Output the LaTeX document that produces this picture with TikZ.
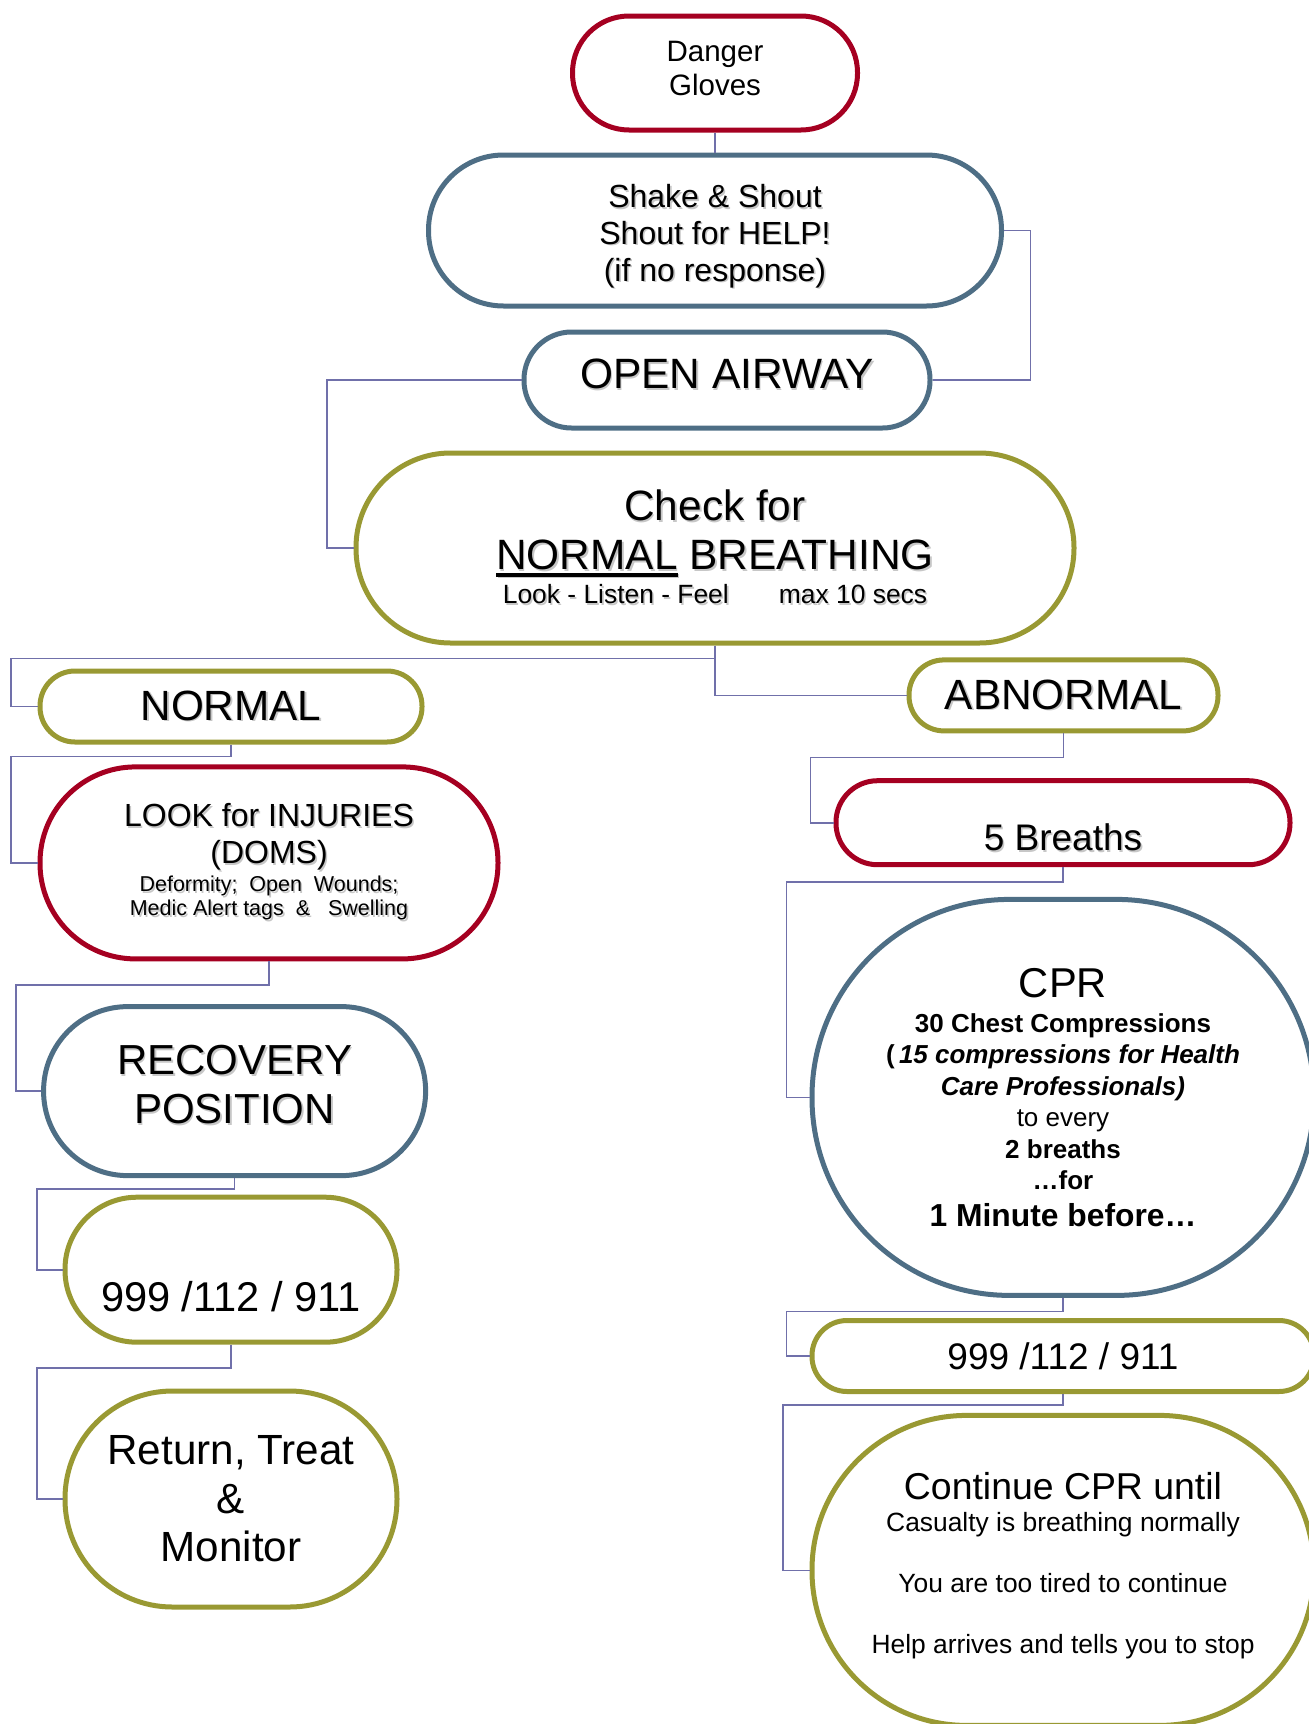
\documentclass[tikz,border=0pt]{standalone}
\usepackage{fontspec}
\setmainfont{Liberation Sans}
\usetikzlibrary{positioning}

\definecolor{aidred}{HTML}{A50021}
\definecolor{aidblue}{HTML}{4E6E85}
\definecolor{aidolive}{HTML}{999933}
\definecolor{aidlink}{HTML}{7070AA}

\newsavebox{\ulsave}
\newcommand{\ulword}[1]{\sbox{\ulsave}{#1}\rlap{\rule[-7pt]{\wd\ulsave}{4pt}}\usebox{\ulsave}}
% light drop shadow behind a line of text
\newcommand{\shtext}[1]{\leavevmode\rlap{\hspace{1.6pt}\raisebox{-1.6pt}{\color{black!22}#1}}#1}

\begin{document}
\begin{tikzpicture}[x=1pt, y=1pt, pill/.style n args={3}{minimum width=#1, minimum height=#2, rounded corners=#3}]
    \tikzstyle{redbox} = [rectangle, draw=aidred, line width=5pt, align=center]
    \tikzstyle{bluebox} = [rectangle, draw=aidblue, line width=5pt, align=center]
    \tikzstyle{olivebox} = [rectangle, draw=aidolive, line width=5pt, align=center]
    \tikzstyle{connector} = [draw=aidlink, line width=1.6pt]

    \useasboundingbox (0,0) rectangle (1309,-1724);

    % main column
    \node (danger) [redbox, pill={285pt}{114pt}{56.5pt}, font=\fontsize{29.5}{34}\selectfont] at (715,-73) {Danger\\Gloves\\[-25.2pt]\mbox{}};
    \node (shake) [bluebox, pill={573pt}{151pt}{75pt}, below=20pt of danger, font=\fontsize{32}{36.8}\selectfont] {\mbox{}\\[-1pt]\shtext{Shake \& Shout}\\\shtext{Shout for HELP!}\\\shtext{(if no response)}};
    \node (airway) [bluebox, pill={406pt}{96pt}{47.5pt}, below=21pt of shake, xshift=12pt, font=\fontsize{42.4}{48}\selectfont, text depth=12pt] {\shtext{OPEN AIRWAY}};
    \node (check) [olivebox, pill={718pt}{190pt}{94.5pt}, below=20pt of airway, xshift=-12pt, font=\fontsize{42.4}{48.8}\selectfont] {\shtext{Check for}\\\shtext{\ulword{NORMAL} BREATHING}\\[-14.5pt]{\fontsize{26.4}{30.4}\selectfont \shtext{Look - Listen - Feel\hspace{1.9em}max 10 secs}}};

    % normal breathing
    \node (normal) [olivebox, pill={382pt}{71pt}{35pt}, below=23pt of check, xshift=-484pt, font=\fontsize{42.3}{48.6}\selectfont] {\shtext{NORMAL}};
    \node (look) [redbox, pill={458pt}{192pt}{95.5pt}, below=19.9pt of normal, xshift=38pt, font=\fontsize{32}{36.8}\selectfont] {\shtext{LOOK for INJURIES}\\\shtext{(DOMS)}\\[-8.6pt]{\fontsize{21.5}{24.7}\selectfont \shtext{Deformity;~ Open~ Wounds;}}\\[-12.8pt]{\fontsize{21.5}{24.7}\selectfont \shtext{Medic Alert tags~ \&~~ Swelling}}};
    \node (recovery) [bluebox, pill={382pt}{169pt}{84pt}, below=42.7pt of look, xshift=-34.4pt, font=\fontsize{42}{48.5}\selectfont] {\shtext{RECOVERY}\\\shtext{POSITION}\\[-35.3pt]\mbox{}};
    \node (callleft) [olivebox, pill={332pt}{145pt}{72pt}, below=16.6pt of recovery, xshift=-3.6pt, font=\fontsize{41.6}{47.8}\selectfont, text height=83.8pt, text depth=0pt] {999 /112 / 911};
    \node (monitor) [olivebox, pill={332pt}{216pt}{107.5pt}, below=43.8pt of callleft, font=\fontsize{42.2}{48.6}\selectfont] {Return, Treat\\\&\\Monitor};

    % abnormal breathing
    \node (abnormal) [olivebox, pill={309pt}{71pt}{35pt}, below=11.9pt of check, xshift=348.5pt, font=\fontsize{42.3}{48.6}\selectfont] {\shtext{ABNORMAL}};
    \node (breaths) [redbox, pill={454pt}{84pt}{41.5pt}, below=44.8pt of abnormal, xshift=-0.5pt, font=\fontsize{37}{42.5}\selectfont, text height=55.5pt, text depth=0pt] {\shtext{5 Breaths}};
    \node (cpr) [bluebox, pill={502pt}{396pt}{197.5pt}, below=29.7pt of breaths, font=\fontsize{26}{31.5}\selectfont\bfseries] {{\fontsize{41.7}{48}\selectfont\mdseries CPR}\\[3.5pt]30 Chest Compressions\\(\,\textit{15 compressions for Health}\\\textit{Care Professionals)}\\{\mdseries to every}\\2 breaths\\…for\\[5.5pt]{\fontsize{31.8}{36.6}\selectfont 1 Minute before…}};
    \node (callright) [olivebox, pill={502pt}{71pt}{35pt}, below=20.1pt of cpr, font=\fontsize{37}{42.5}\selectfont] {999 /112 / 911};
    \node (continue) [olivebox, pill={502pt}{310pt}{154.5pt}, below=18.9pt of callright, font=\fontsize{26.4}{30.5}\selectfont] {{\fontsize{37.4}{43}\selectfont Continue CPR until}\\[2pt]Casualty is breathing normally\\[30.5pt]You are too tired to continue\\[30.5pt]Help arrives and tells you to stop\\[-15.2pt]\mbox{}};

    \draw [connector] (danger) -- (shake);
    \draw [connector] (shake.east) -- ++(26.5,0) |- (airway.east);
    \draw [connector] (airway.west) -| ([xshift=-26.5pt]check.west) -- (check.west);
    \draw [connector] (check.south) -- ++(0,-13) -| ([xshift=-26.5pt]normal.west) -- (normal.west);
    \draw [connector] (check.south) |- (abnormal.west);
    \draw [connector] (normal.south) -- ++(0,-12) -| ([xshift=-26.5pt]look.west) -- (look.west);
    \draw [connector] (abnormal.south) -- ++(0,-24) -| ([xshift=-23pt]breaths.west) -- (breaths.west);
    \draw [connector] (look.south) -- ++(0,-23.5) -| ([xshift=-25.3pt]recovery.west) -- (recovery.west);
    \draw [connector] (breaths.south) -- ++(0,-15) -| ([xshift=-23pt]cpr.west) -- (cpr.west);
    \draw [connector] (recovery.south) -- ++(0,-11) -| ([xshift=-25.6pt]callleft.west) -- (callleft.west);
    \draw [connector] (cpr.south) -- ++(0,-13.4) -| ([xshift=-23pt]callright.west) -- (callright.west);
    \draw [connector] (callleft.south) -- ++(0,-23) -| ([xshift=-25.6pt]monitor.west) -- (monitor.west);
    \draw [connector] (callright.south) -- ++(0,-11) -| ([xshift=-26.4pt]continue.west) -- (continue.west);
\end{tikzpicture}
\end{document}
